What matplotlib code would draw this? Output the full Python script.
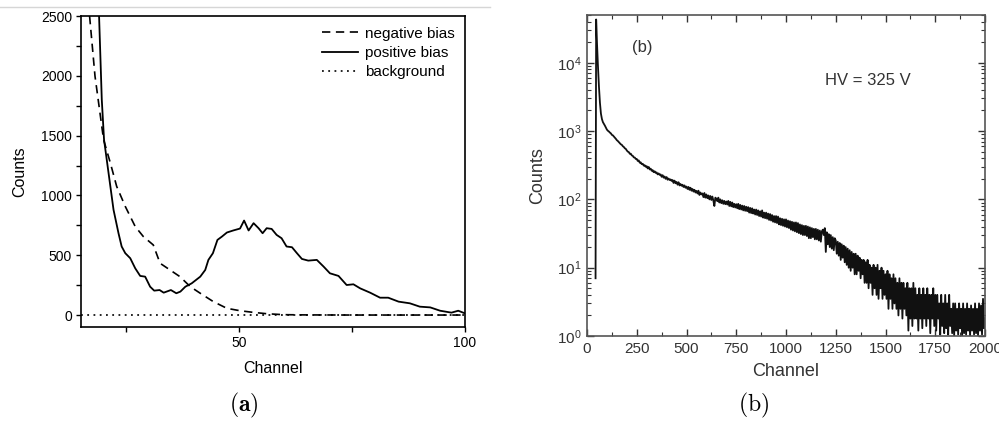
import matplotlib
matplotlib.use("Agg")
import matplotlib.pyplot as plt
from matplotlib.lines import Line2D
from matplotlib.ticker import MultipleLocator, LogLocator, NullFormatter, FixedLocator
import numpy as np

plt.rcParams['font.family'] = ['Liberation Sans', 'DejaVu Sans']
plt.rcParams['lines.scale_dashes'] = False

# ---------------- Panel (a) data ----------------
neg_ch = [16.9, 18.1, 20.0, 21.5, 22.9, 24.8, 27.0, 28.8, 31.0, 32.5, 34.7, 36.9,
          39.2, 41.4, 44.3, 47.3, 50.2, 53.2, 56.1, 59.8, 65, 75, 85, 100]
neg_counts = [2500, 1997, 1466, 1271, 1075, 908, 740, 656, 586, 433, 377, 321,
              237, 182, 112, 56, 36, 22, 11, 3, 1, 0, 0, 0]

pos_ch = [19.0, 19.6, 20.1, 21.1, 22.2, 23.3, 24.0, 24.8, 25.9, 27.0, 28.1, 29.2,
          30.3, 31.2, 32.4, 33.3, 34.9, 36.1, 37.0, 38.1, 39.5, 41.4, 42.5, 43.2,
          44.2, 45.2, 46.2, 47.3, 48.7, 50.2, 51.1, 52.1, 53.2, 54.3, 55.2, 56.1,
          57.2, 58.3, 59.4, 60.5, 61.7, 62.8, 63.9, 65.3, 67.2, 68.7, 70.1, 72.0,
          73.8, 75.3, 76.8, 79.0, 81.2, 83.0, 85.3, 87.8, 90.0, 92.3, 94.5, 97.0,
          98.5, 100.0]
pos_counts = [2500, 1801, 1466, 1187, 880, 684, 573, 517, 475, 391, 327, 321,
              237, 204, 209, 187, 209, 182, 196, 237, 265, 321, 377, 461,
              517, 628, 656, 690, 707, 723, 790, 707, 768, 726, 684, 726,
              720, 670, 642, 573, 567, 517, 469, 455, 461, 405, 349, 327,
              251, 257, 223, 187, 145, 145, 112, 98, 70, 64, 36, 20,
              36, 14]

bg_ch = [15, 100]
bg_counts = [0, 0]

# ---------------- Panel (b) data ----------------
spec_head_ch = [43, 46, 50, 55, 60, 65, 70, 75, 80, 90]
spec_head_counts = [7, 43000, 20000, 9000, 4500, 2600, 1800, 1500, 1350, 1200]

spec_tail_start, spec_tail_step = 100, 5
spec_tail_counts = [
    1050, 1010, 985, 950, 925, 880, 865, 830, 800, 770,     # 100
    735, 715, 690, 668, 640, 628, 600, 585, 560, 548,       # 150
    520, 500, 492, 465, 466, 440, 434, 412, 410, 390,       # 200
    390, 365, 372, 344, 348, 328, 332, 312, 316, 300,       # 250
    306, 284, 298, 274, 282, 262, 268, 250, 258, 244,       # 300
    248, 232, 240, 228, 232, 214, 226, 208, 216, 200,       # 350
    212, 194, 202, 192, 196, 186, 192, 174, 188, 172,       # 400
    180, 164, 178, 160, 168, 158, 164, 152, 160, 148,       # 450
    154, 142, 152, 138, 148, 134, 142, 130, 138, 126,       # 500
    133, 122, 134, 116, 126, 118, 122, 108, 124, 106,       # 550
    118, 104, 114, 100, 112, 98, 110, 96, 80, 106,          # 600
    102, 94, 106, 90, 100, 88, 97, 86, 95, 85,              # 650
    93, 84, 95, 80, 92, 79, 90, 77, 86, 76,                 # 700
    85, 74, 86, 72, 83, 71, 81, 69, 80, 68,                 # 750
    78, 67, 77, 64, 75, 63, 74, 62, 71, 60,                 # 800
    71, 59, 69, 57, 67, 56, 69, 54, 64, 53,                 # 850
    64, 52, 62, 50, 61, 49, 59, 47, 57, 46,                 # 900
    57, 45, 56, 43, 53, 42, 52, 41, 51, 40,                 # 950
    51, 39, 49, 38, 48, 36, 47, 35, 46, 34,                 # 1000
    46, 33, 45, 32, 43, 31, 42, 30, 41, 30,                 # 1050
    41, 29, 40, 27, 39, 27, 38, 28, 37, 26,                 # 1100
    37, 26, 36, 25, 35, 24, 34, 36, 30, 38,                 # 1150
    17, 33, 22, 31, 20, 30, 19, 28, 18, 27,                 # 1200
    25, 16, 24, 15, 23, 13, 22, 14, 21, 12,                 # 1250
    20, 11, 19, 10, 18, 9, 17, 10, 16, 8,                   # 1300
    16, 8, 15, 9, 14, 7, 13, 8, 13, 6,                      # 1350
    12, 6, 13, 5, 11, 6, 10, 4, 11, 5,                      # 1400
    10, 4, 11, 3.5, 9, 5, 10, 3.5, 9, 4,                    # 1450
    8, 3.5, 9, 2.5, 8, 3.5, 7, 2.5, 8, 3,                   # 1500
    7, 2.5, 6, 2, 7, 2.5, 6, 1.8, 6, 2.5,                   # 1550
    5, 2, 6, 1.2, 5, 1.8, 5, 1.4, 6, 1.8,                   # 1600
    5, 1.8, 4, 1.2, 5, 1.8, 4, 1.3, 5, 1.8,                 # 1650
    4, 1.4, 5, 1.8, 4, 1.1, 4, 1.8, 5, 1.4,                 # 1700
    4, 1.2, 4, 1.8, 3, 1.05, 4, 1.4, 3, 1.1,                # 1750
    4, 1.3, 3, 1.05, 4, 1.4, 2.5, 1.1, 3, 1.0,              # 1800
    3, 1.2, 2.5, 1.05, 3, 1.3, 2.5, 1.0, 3, 1.1,            # 1850
    2.5, 1.05, 3, 1.2, 2.5, 1.0, 2.8, 1.2, 2.5, 1.05,       # 1900
    3, 1.1, 2.5, 1.0, 3, 1.2, 2.8, 1.05, 3.5, 1.3,          # 1950
    1.8]                                                    # 2000

spec_ch = spec_head_ch + [spec_tail_start + spec_tail_step * i for i in range(len(spec_tail_counts))]
spec_counts = spec_head_counts + spec_tail_counts

# ---------------- Figure ----------------
fig = plt.figure(figsize=(9.99, 4.21), dpi=100)

# faint page rule at the top of left panel
fig.add_artist(Line2D([0.0, 0.49], [1 - 7 / 421, 1 - 7 / 421], color='#d6d6d6', lw=1.0))

ax1 = fig.add_axes([81 / 999, 1 - 327 / 421, 384 / 999, 311 / 421])
ax1.plot(neg_ch, neg_counts, color='black', lw=1.2, linestyle=(0, (6, 4)), label='negative bias')
ax1.plot(pos_ch, pos_counts, color='black', lw=1.3, label='positive bias')
ax1.plot(bg_ch, bg_counts, color='black', lw=1.2, linestyle=(0, (1.3, 3.2)), label='background')
ax1.set_xlim(15, 100)
ax1.set_ylim(-100, 2500)
ax1.xaxis.set_major_locator(FixedLocator([50, 100]))
ax1.xaxis.set_minor_locator(FixedLocator([25, 75]))
ax1.yaxis.set_major_locator(MultipleLocator(500))
ax1.yaxis.set_minor_locator(MultipleLocator(250))
ax1.tick_params(axis='both', which='both', direction='out', length=3.5, width=1.0,
                labelsize=10, pad=3, top=False, right=False)
ax1.set_xlabel('Channel', fontsize=11.5, labelpad=8)
ax1.set_ylabel('Counts', fontsize=11.5, labelpad=10)
for s in ax1.spines.values():
    s.set_linewidth(1.2)
leg = ax1.legend(loc='upper right', frameon=False, fontsize=11, handlelength=2.4,
                 handletextpad=0.4, labelspacing=0.35, borderaxespad=0.3,
                 bbox_to_anchor=(1.0, 1.0))

# ---------------- Panel (b) ----------------
grey = '#333333'
ax2 = fig.add_axes([587 / 999, 1 - 336 / 421, 398 / 999, 321 / 421])
ax2.plot(spec_ch, spec_counts, color='#111111', lw=1.3)
ax2.set_yscale('log')
ax2.set_xlim(0, 2000)
ax2.set_ylim(1, 5e4)
ax2.xaxis.set_major_locator(MultipleLocator(250))
ax2.xaxis.set_minor_locator(MultipleLocator(125))
ax2.yaxis.set_major_locator(LogLocator(base=10, numticks=10))
ax2.yaxis.set_minor_locator(LogLocator(base=10, subs=np.arange(2, 10), numticks=20))
ax2.yaxis.set_minor_formatter(NullFormatter())
ax2.tick_params(axis='both', which='major', direction='in', length=5, width=1.0,
                top=True, right=True, labelsize=11, colors=grey, pad=4)
ax2.tick_params(axis='both', which='minor', direction='in', length=3, width=0.8,
                top=True, right=True, colors=grey)
for s in ax2.spines.values():
    s.set_linewidth(1.2)
    s.set_color('#555555')
ax2.set_xlabel('Channel', fontsize=13, color=grey, labelpad=5)
ax2.set_ylabel('Counts', fontsize=13, color=grey, labelpad=8)
ax2.text(0.113, 0.90, '(b)', transform=ax2.transAxes, fontsize=12, color=grey, va='center')
ax2.text(0.598, 0.797, 'HV = 325 V', transform=ax2.transAxes, fontsize=12, color=grey, va='center')

# ---------------- Captions ----------------
fig.text(244 / 999, 1 - 405 / 421, r'$\mathbf{(a)}$', ha='center', va='center',
         fontsize=17, math_fontfamily='cm')
fig.text(754 / 999, 1 - 405 / 421, r'$\mathrm{(b)}$', ha='center', va='center',
         fontsize=17, math_fontfamily='cm')

fig.savefig('out.png', dpi=100)
